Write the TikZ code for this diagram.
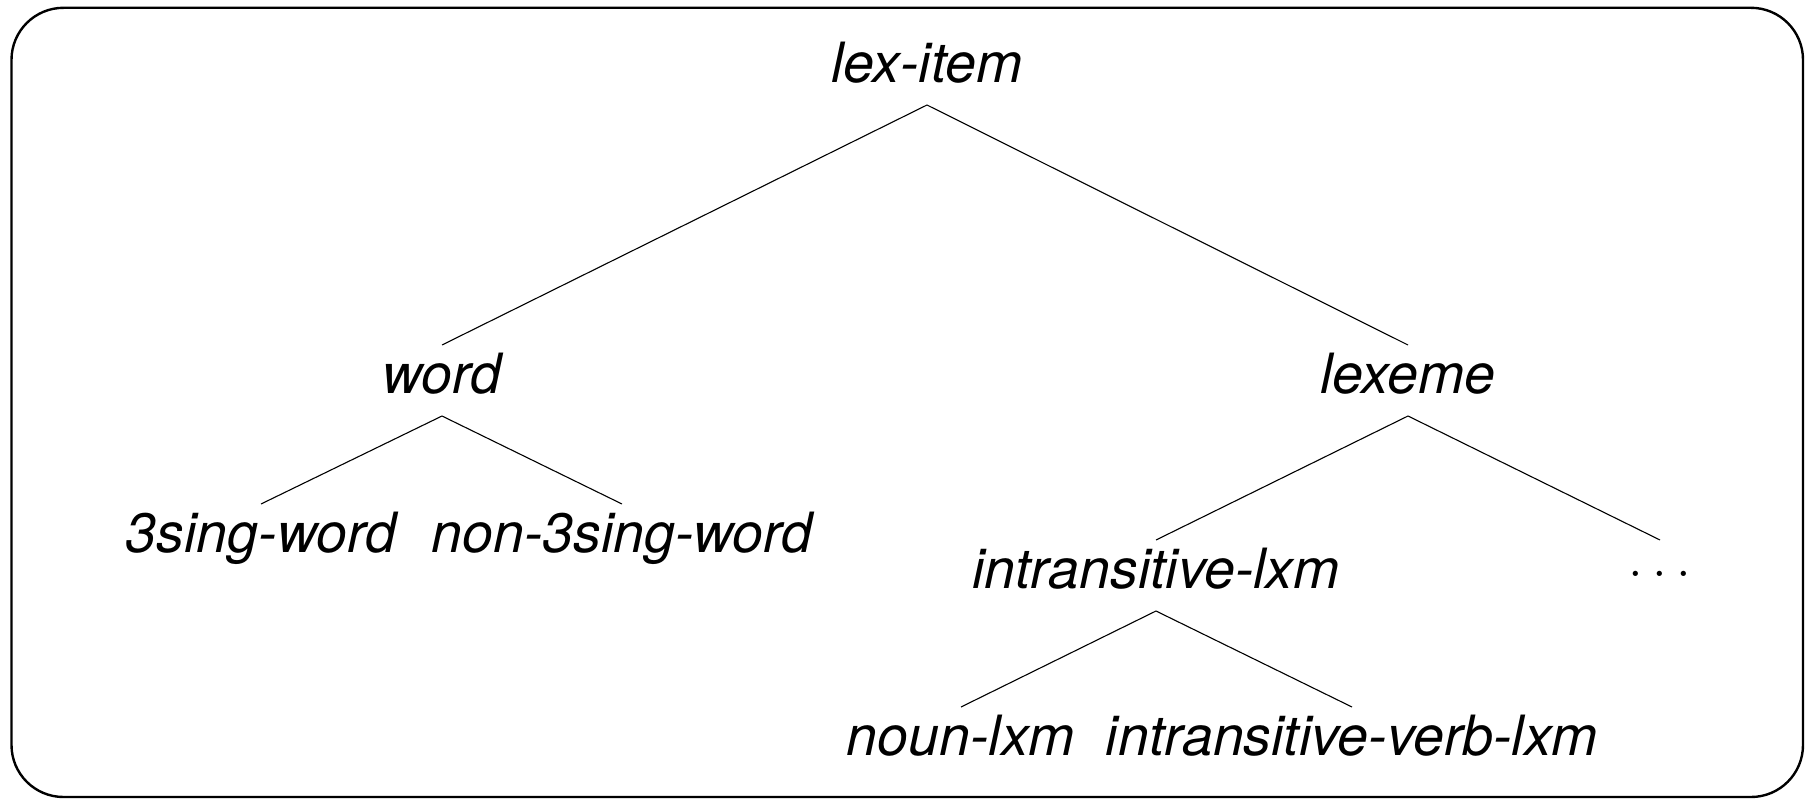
\RequirePackage{fix-cm}
\documentclass[tikz,border=0pt]{standalone}
\usepackage{fontspec}
\setmainfont{TeX Gyre Heros}
\begin{document}
\begin{tikzpicture}[x=1pt,y=-1pt,
  typ/.style={anchor=base,inner sep=0pt,outer sep=0pt,
    text height=48pt,text depth=23pt,
    font=\fontsize{55.5}{60}\selectfont\itshape},
  edge/.style={line width=1.1pt},
  frame/.style={line width=2.4pt,rounded corners=52pt}]
  \useasboundingbox (0,0) rectangle (1805,800);
  \draw[frame] (11.5,7.8) rectangle (1803,797);

  % type hierarchy
  \node[typ] (lex)    at (927,82)   {lex-item};
  \node[typ] (word)   at (442,393)  {word};
  \node[typ] (lexeme) at (1408,393) {lexeme};
  \node[typ] (sg)     at (261,552)  {3sing-word};
  \node[typ] (nsg)    at (622,552)  {non-3sing-word};
  \node[typ] (intr)   at (1156,588) {intransitive-lxm};
  \node[anchor=base,inner sep=0pt,outer sep=0pt,text height=36pt,
        font=\fontsize{54}{60}\selectfont] (more) at (1660,576) {$\ldots$};
  \node[typ] (noun)   at (961,755)  {noun-lxm};
  \node[typ] (iverb)  at (1352,755) {intransitive-verb-lxm};

  \draw[edge] (word.north) -- (lex.south) -- (lexeme.north);
  \draw[edge] (sg.north) -- (word.south) -- (nsg.north);
  \draw[edge] (intr.north) -- (lexeme.south) -- (more.north);
  \draw[edge] (noun.north) -- (intr.south) -- (iverb.north);
\end{tikzpicture}
\end{document}
